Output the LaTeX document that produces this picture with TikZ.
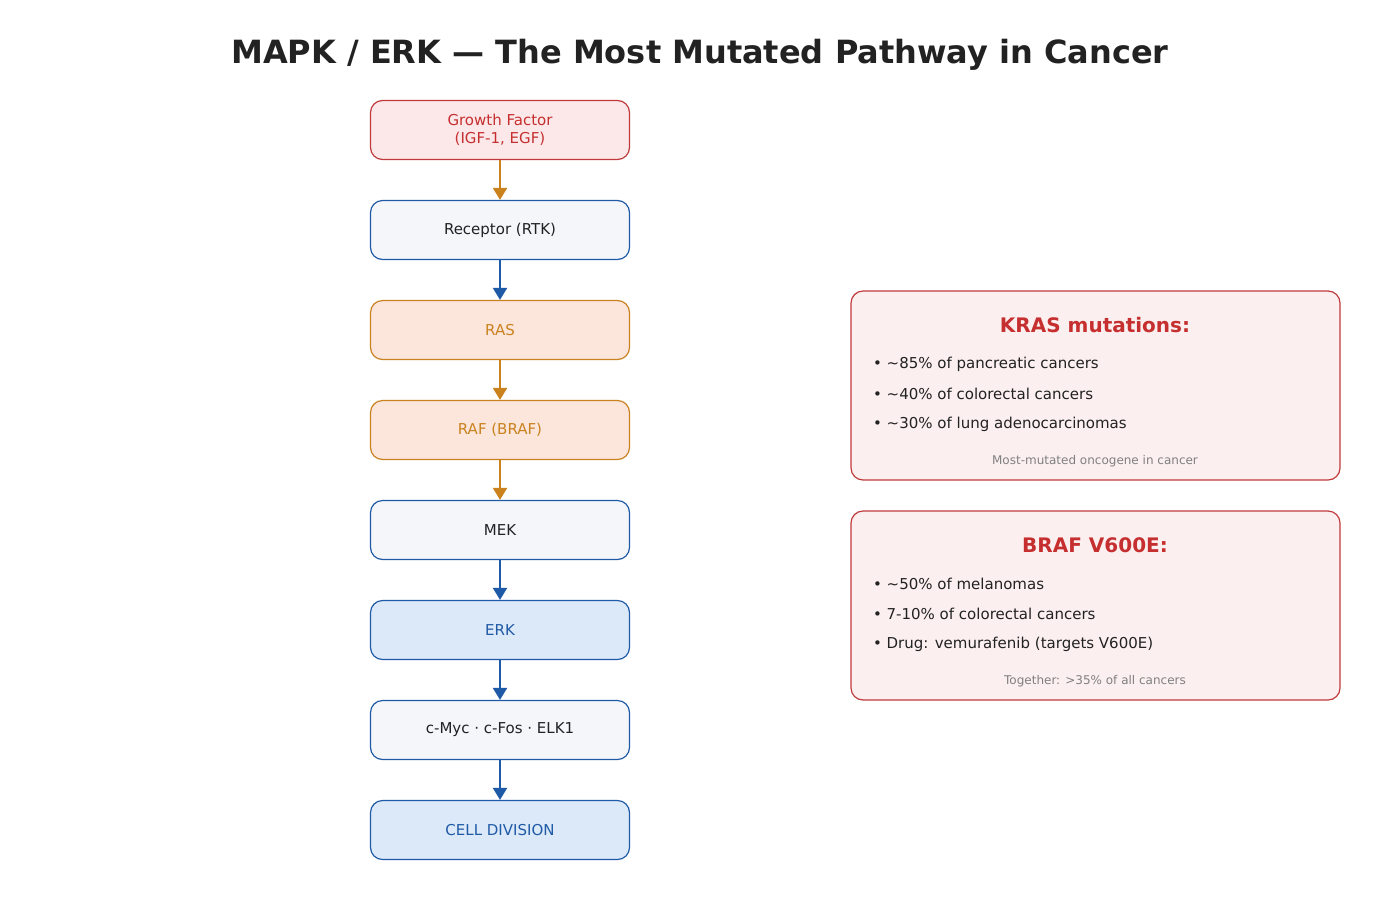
\documentclass[tikz,border=0pt]{standalone}
\usepackage{fontspec}
\setmainfont{DejaVu Sans}
\usetikzlibrary{arrows.meta}
\definecolor{redline}{HTML}{C0393B}
\definecolor{redtext}{HTML}{C62F2F}
\definecolor{redfill}{HTML}{FCE8E9}
\definecolor{bluline}{HTML}{1F5AA6}
\definecolor{blufill}{HTML}{F4F6FA}
\definecolor{erkfill}{HTML}{DCE9F9}
\definecolor{oraline}{HTML}{C9821E}
\definecolor{orafill}{HTML}{FCE5DB}
\definecolor{notefill}{HTML}{FCEFEF}
\definecolor{darktext}{HTML}{222222}
\tikzset{
  stepnode/.style={draw, line width=0.6pt, rounded corners=6pt, minimum width=129.5pt,
    minimum height=29.5pt, align=center, font=\fontsize{7.5}{9}\selectfont, text=darktext},
  gfnode/.style={stepnode, draw=redline, fill=redfill, text=redtext},
  plainnode/.style={stepnode, draw=bluline, fill=blufill},
  erknode/.style={stepnode, draw=bluline, fill=erkfill, text=bluline},
  rasnode/.style={stepnode, draw=oraline, fill=orafill, text=oraline},
  link/.style={-{Triangle[length=6pt,width=7pt]}, line width=1pt},
  panel/.style={draw=redline, fill=notefill, line width=0.6pt, rounded corners=6pt},
  bullet/.style={anchor=west, font=\fontsize{7.5}{9}\selectfont, text=darktext},
}
\begin{document}
\begin{tikzpicture}[x=0.5pt, y=-0.5pt]
    \useasboundingbox (0,0) rectangle (1400,900);
    \node[font=\bfseries\fontsize{16}{19}\selectfont, text=darktext] (title) at (700,55) {MAPK / ERK — The Most Mutated Pathway in Cancer};

    % pathway
    \node[gfnode] (gf) at (500,130) {Growth Factor\\(IGF-1, EGF)};
    \node[plainnode] (rtk) at (500,230) {Receptor (RTK)};
    \node[rasnode] (ras) at (500,330) {RAS};
    \node[rasnode] (raf) at (500,430) {RAF (BRAF)};
    \node[plainnode] (mek) at (500,530) {MEK};
    \node[erknode] (erk) at (500,630) {ERK};
    \node[plainnode] (myc) at (500,730) {c-Myc · c-Fos · ELK1};
    \node[erknode] (div) at (500,830) {CELL DIVISION};

    \draw[link, oraline] (gf) -- (rtk);
    \draw[link, bluline] (rtk) -- (ras);
    \draw[link, oraline] (ras) -- (raf);
    \draw[link, oraline] (raf) -- (mek);
    \draw[link, bluline] (mek) -- (erk);
    \draw[link, bluline] (erk) -- (myc);
    \draw[link, bluline] (myc) -- (div);

    % KRAS panel
    \draw[panel] (851,291) rectangle (1340,480);
    \node[font=\bfseries\fontsize{10}{12}\selectfont, text=redtext] (krastitle) at (1095,325) {KRAS mutations:};
    \node[bullet] (kras1) at (866,364) {• \textasciitilde 85\% of pancreatic cancers};
    \node[bullet] (kras2) at (866,394) {• \textasciitilde 40\% of colorectal cancers};
    \node[bullet] (kras3) at (866,424) {• \textasciitilde 30\% of lung adenocarcinomas};
    \node[font=\fontsize{6}{7}\selectfont, text=gray] (krasnote) at (1095,461) {Most-mutated oncogene in cancer};

    % BRAF panel
    \draw[panel] (851,511) rectangle (1340,700);
    \node[font=\bfseries\fontsize{10}{12}\selectfont, text=redtext] (braftitle) at (1095,545) {BRAF V600E:};
    \node[bullet] (braf1) at (866,584) {• \textasciitilde 50\% of melanomas};
    \node[bullet] (braf2) at (866,614) {• 7-10\% of colorectal cancers};
    \node[bullet] (braf3) at (866,644) {• Drug: vemurafenib (targets V600E)};
    \node[font=\fontsize{6}{7}\selectfont, text=gray] (brafnote) at (1095,681) {Together: >35\% of all cancers};
\end{tikzpicture}
\end{document}
